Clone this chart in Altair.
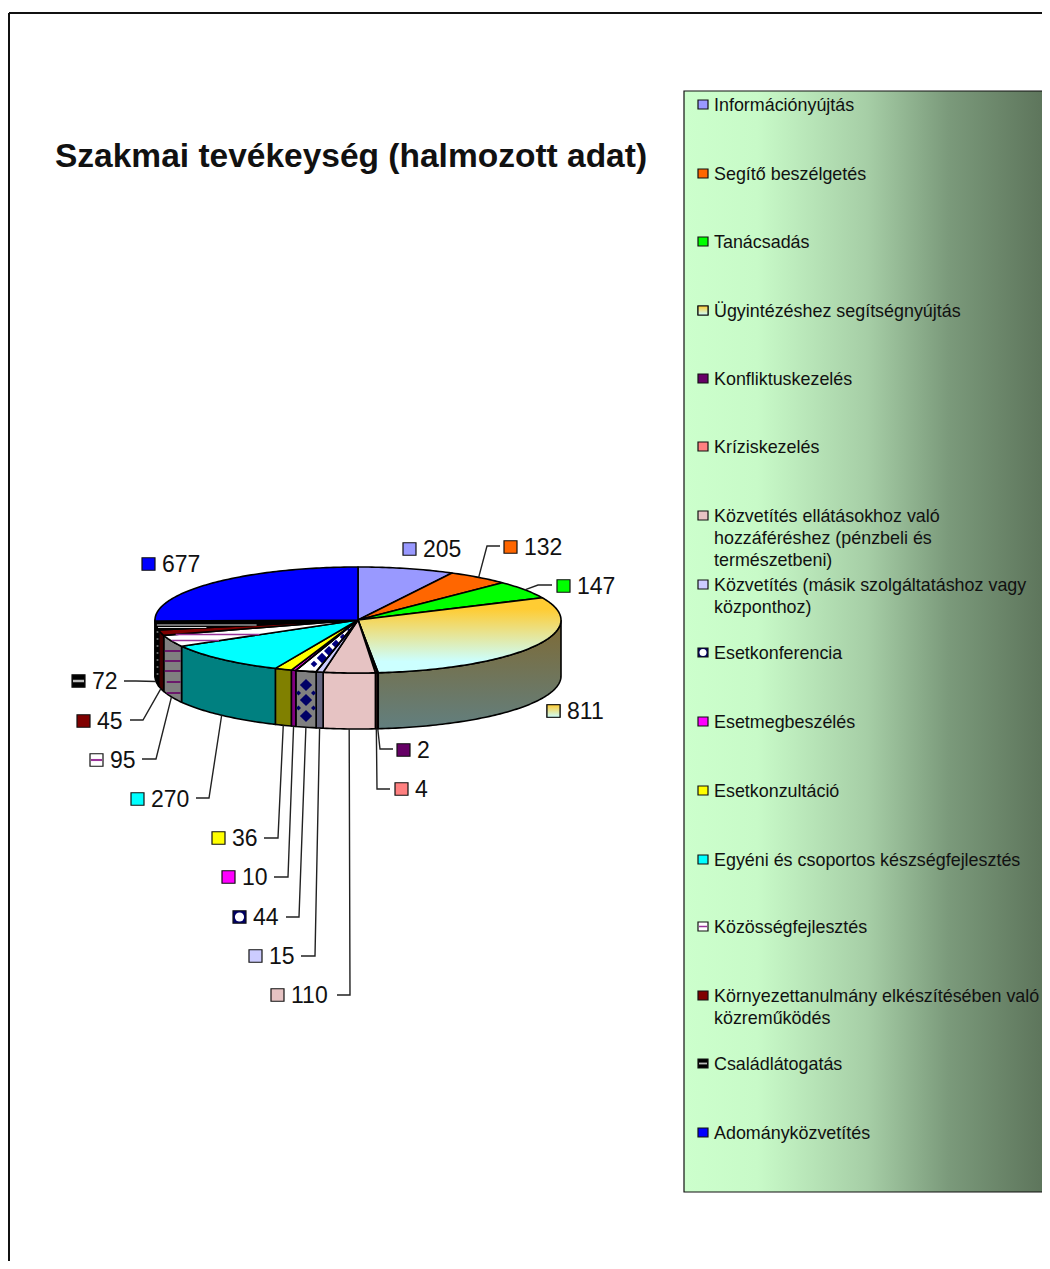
import math
import altair as alt
import pandas as pd

# ---------- data ----------
categories = ["Információnyújtás", "Segítő beszélgetés", "Tanácsadás", "Ügyintézéshez segítségnyújtás",
              "Konfliktuskezelés", "Kríziskezelés",
              "Közvetítés ellátásokhoz való\nhozzáféréshez (pénzbeli és\ntermészetbeni)",
              "Közvetítés (másik szolgáltatáshoz vagy\nközponthoz)", "Esetkonferencia", "Esetmegbeszélés",
              "Esetkonzultáció", "Egyéni és csoportos készségfejlesztés", "Közösségfejlesztés",
              "Környezettanulmány elkészítésében való\nközreműködés", "Családlátogatás", "Adományközvetítés"]
values = [205, 132, 147, 811, 2, 4, 110, 15, 44, 10, 36, 270, 95, 45, 72, 677]
title_text = "Szakmai tevékeység (halmozott adat)"

# ---------- styles ----------
top_colors = ["#9999FF", "#FF6600", "#00FF00", "#FFCC33", "#660066", "#FF8080", "#E6C3C3", "#CCCCFF",
              "#FFFFFF", "#FF00FF", "#FFFF00", "#00FFFF", "#FFFFFF", "#800000", "#000000", "#0000FF"]
side_colors = ["#4D4D80", "#803300", "#008000", "#806622", "#330033", "#804040", "#E6C3C3", "#666680",
               "#808080", "#800080", "#808000", "#008080", "#808080", "#400000", "#000000", "#000080"]
FONT = "Liberation Sans"
CX, CY, RX, RY, DEPTH = 358, 620, 203, 53, 56

# ---------- layout ----------
legend_y = [105, 174, 242, 311, 379, 447, 516, 585, 653, 722, 791, 860, 927, 996, 1064, 1133]
swatch_x = [403, 504, 557, 547, 397, 395, 271, 249, 233, 222, 212, 131, 90, 77, 72, 142]
label_y = [549, 547, 586, 711, 750, 789, 995, 956, 917, 877, 838, 799, 760, 721, 681, 564]
# leader elbows and ends; None = slice has no leader
leader_mid = [None, (487, 546), (538, 585), None, (380, 749), (377, 789), (350, 995), (315, 956), (299, 917),
              (288, 877), (278, 838), (209, 798), (156, 759), (143, 720), (136, 681), None]
leader_end = [None, (500, 546), (552, 585), None, (393, 749), (390, 789), (337, 995), (301, 956), (286, 917),
              (274, 877), (264, 838), (196, 798), (142, 759), (130, 720), (124, 681), None]

X = alt.X("x:Q", scale=alt.Scale(domain=[8, 1042], nice=False, zero=False), axis=None)
X2 = alt.X2("x2:Q")
Y = alt.Y("y:Q", scale=alt.Scale(domain=[1261, 8], nice=False, zero=False), axis=None)
Y2 = alt.Y2("y2:Q")

total = sum(values)
cum = [0]
for v in values:
    cum.append(cum[-1] + v)
ang = [c / total * 360 for c in cum]


def pt(a, dy=0):
    r = math.radians(a)
    return (CX + RX * math.sin(r), CY - RY * math.cos(r) + dy)


def arc(a0, a1, dy=0):
    n = max(2, int(abs(a1 - a0)) + 2)
    return [pt(a0 + (a1 - a0) * i / (n - 1), dy) for i in range(n)]


def poly(points, fill, stroke="black", sw=1.6):
    df = pd.DataFrame({"x": [p[0] for p in points], "y": [p[1] for p in points], "o": range(len(points))})
    kw = {"stroke": stroke, "strokeWidth": sw, "strokeJoin": "round", "fill": fill}
    return alt.Chart(df).mark_line(**kw).encode(x=X, y=Y, order="o:Q")


def hsegs(rows, color, sw):
    df = pd.DataFrame(rows, columns=["x", "x2", "y"])
    return alt.Chart(df).mark_rule(color=color, strokeWidth=sw).encode(x=X, x2=X2, y=Y)


def linear(stops, horizontal=False):
    return alt.Gradient(gradient="linear", x1=0, y1=0, x2=1 if horizontal else 0, y2=0 if horizontal else 1,
                        stops=[alt.GradientStop(offset=o, color=c) for o, c in stops])


def wedge_stripes(i, ys):
    a0, a1 = math.radians(ang[i]), math.radians(ang[i + 1])
    rows = []
    for y in ys:
        t0 = (y - CY) / (-RY * math.cos(a0))
        t1 = (y - CY) / (-RY * math.cos(a1))
        xa = CX + RX * math.sin(a0) * t0
        xb = CX + RX * math.sin(a1) * t1
        edge = CX - RX * math.sqrt(max(0, 1 - ((y - CY) / RY) ** 2))
        rows.append((max(min(xa, xb), edge) + 1, max(xa, xb) - 1, y))
    return rows


GOLD = [(0, "#FFCC33"), (1, "#CCFFFF")]
GOLD_TOP = [(0, "#FFCC33"), (0.15, "#FFCC33"), (0.85, "#CCFFFF"), (1, "#CCFFFF")]
layers = []

# outer frame
layers.append(alt.Chart(pd.DataFrame({"x": [9], "x2": [1042], "y": [13]}))
              .mark_rule(color="#111111", strokeWidth=2).encode(x=X, x2=X2, y=Y))
layers.append(alt.Chart(pd.DataFrame({"x": [9], "y": [13], "y2": [1261]}))
              .mark_rule(color="#111111", strokeWidth=2).encode(x=X, y=Y, y2=Y2))

# legend box
layers.append(alt.Chart(pd.DataFrame({"x": [684], "x2": [1051], "y": [91], "y2": [1192]}))
              .mark_rect(stroke="#111111", strokeWidth=1.2,
                         fill=linear([(0, "#CCFFCC"), (0.2, "#C8FAC8"), (0.5, "#A6CEA6"), (0.72, "#7B9A7B"),
                                      (1, "#5B7259")], True))
              .encode(x=X, x2=X2, y=Y, y2=Y2))

# walls (front half only)
for i in range(len(values)):
    a0, a1 = max(ang[i], 90), min(ang[i + 1], 270)
    if a1 <= a0:
        continue
    top = arc(a0, a1)
    bottom = arc(a1, a0, DEPTH)
    fill = linear([(0, "#7F6A33"), (1, "#627F7F")]) if i == 3 else side_colors[i]
    layers.append(poly(top + bottom + top[:1], fill))

# wall patterns
rim95 = [ang[12], ang[13]]
wall_rows = []
for y in [651, 661, 671, 682, 693]:
    wall_rows.append((pt(rim95[1])[0] + 1 if y < 680 else pt(rim95[1])[0] + 3, pt(rim95[0])[0] - 1, y))
layers.append(hsegs(wall_rows, "#660066", 1.6))
d = pd.DataFrame({"x": [306, 306, 306, 298.5, 298.5, 313.5, 313.5],
                  "y": [685, 700, 716, 693, 708, 693, 708],
                  "s": [150, 150, 150, 25, 25, 25, 25]})
layers.append(alt.Chart(d).mark_point(shape="diamond", filled=True, color="#000066", opacity=1)
              .encode(x=X, y=Y, size=alt.Size("s:Q", scale=None)))
d72 = pd.DataFrame({"x": [157.5] * 7, "y": [632, 639, 646, 653, 660, 667, 674]})
layers.append(alt.Chart(d72).mark_point(shape="square", filled=True, color="#777777", opacity=1, size=3)
              .encode(x=X, y=Y))

# top slices
for i in range(len(values)):
    pts = [(CX, CY)] + arc(ang[i], ang[i + 1]) + [(CX, CY)]
    fill = linear(GOLD_TOP) if i == 3 else top_colors[i]
    layers.append(poly(pts, fill))

# top patterns
layers.append(hsegs(wedge_stripes(12, [634.5, 640.5]), "#993399", 1.6))
layers.append(hsegs(wedge_stripes(14, [625, 627.5]), "#DDDDDD", 1))
d44 = pd.DataFrame({"x": [349, 343, 336, 329, 322, 314],
                    "y": [630, 637, 644, 651, 658, 664],
                    "s": [14, 40, 75, 100, 110, 45]})
layers.append(alt.Chart(d44).mark_point(shape="diamond", filled=True, color="#000080", opacity=1)
              .encode(x=X, y=Y, size=alt.Size("s:Q", scale=None)))
# outlines of the patterned wedge redrawn over its pattern
layers.append(poly([(CX, CY)] + arc(ang[8], ang[9]) + [(CX, CY)], "transparent"))

# leaders, starting on the rim at each slice's mid angle
rows = []
for i in range(len(values)):
    if leader_mid[i] is None:
        continue
    mid = (ang[i] + ang[i + 1]) / 2
    s = pt(mid, DEPTH if 90 < mid < 270 else 0)
    for k, p in enumerate([s, leader_mid[i], leader_end[i]]):
        rows.append({"x": p[0], "y": p[1], "o": k, "slice": i})
layers.append(alt.Chart(pd.DataFrame(rows)).mark_line(color="#222222", strokeWidth=1.4)
              .encode(x=X, y=Y, order="o:Q", detail="slice:N"))


def swatches(xs, ys, w, h):
    plain = []
    for i, (x, y) in enumerate(zip(xs, ys)):
        plain.append({"x": x, "x2": x + w, "y": y - h / 2, "y2": y + h / 2,
                      "c": {8: "#000066"}.get(i, top_colors[i])})
    out = [alt.Chart(pd.DataFrame(plain)).mark_rect(stroke="#111111", strokeWidth=1.2)
           .encode(x=X, x2=X2, y=Y, y2=Y2, fill=alt.Fill("c:N", scale=None))]
    out.append(alt.Chart(pd.DataFrame({"x": [xs[3]], "x2": [xs[3] + w], "y": [ys[3] - h / 2], "y2": [ys[3] + h / 2]}))
               .mark_rect(stroke="#111111", strokeWidth=1.2, fill=linear(GOLD))
               .encode(x=X, x2=X2, y=Y, y2=Y2))
    out.append(alt.Chart(pd.DataFrame({"x": [xs[8] + w / 2], "y": [ys[8]]}))
               .mark_point(shape="circle", filled=True, color="white", opacity=1, size=w * w * 0.5)
               .encode(x=X, y=Y))
    out.append(hsegs([(xs[12] + 1, xs[12] + w - 1, ys[12])], "#993399", max(1.5, h / 6)))
    out.append(hsegs([(xs[14] + 1, xs[14] + w - 1, ys[14])], "#BBBBBB", max(1.5, h / 5)))
    return out


layers += swatches(swatch_x, label_y, 13, 12.5)
layers += swatches([698] * 16, [y - 0.5 for y in legend_y], 10, 9)


def texts(rows, size, weight="normal", color="#111111"):
    return alt.Chart(pd.DataFrame(rows, columns=["x", "y", "t"])).mark_text(
        font=FONT, fontSize=size, fontWeight=weight, align="left", baseline="middle", color=color
    ).encode(x=X, y=Y, text="t:N")


layers.append(texts([(s + 20, y + 1, str(v)) for s, y, v in zip(swatch_x, label_y, values)], 23))
leg = []
for c, y in zip(categories, legend_y):
    for k, line in enumerate(c.split("\n")):
        leg.append((714, y + 1 + 22 * k, line))
layers.append(texts(leg, 17.9))
layers.append(texts([(55, 157, title_text)], 33.5, "bold"))

chart = alt.layer(*layers).properties(
    width=1034, height=1253, padding=0, background="white",
    autosize=alt.AutoSizeParams(type="none")
).configure_view(strokeWidth=0)
chart.save("out.html", embed_options={"renderer": "svg", "actions": False})
